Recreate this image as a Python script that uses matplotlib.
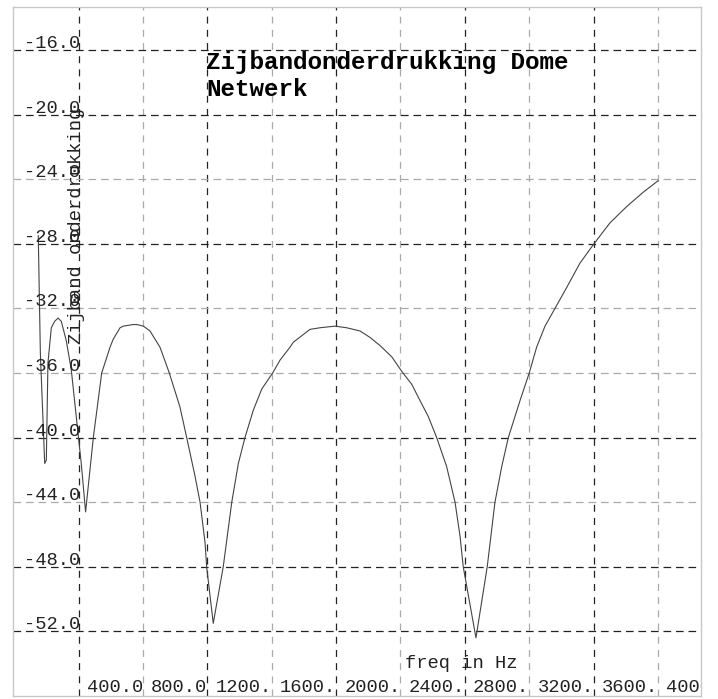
import matplotlib
matplotlib.use("Agg")
import matplotlib.pyplot as plt
import matplotlib.transforms as mtransforms

plt.rcParams["lines.scale_dashes"] = False

# frequency (Hz) and sideband suppression (dB)
freq = [150, 163, 190, 200, 210, 231, 252, 273, 293, 324, 355, 386, 417,
        444, 492, 544, 596, 616, 658, 678, 740, 762, 803, 844, 875, 906,
        964, 1030, 1072, 1124, 1155, 1186, 1196, 1237, 1299, 1352, 1393,
        1434, 1486, 1538, 1606, 1652, 1714, 1734, 1838, 1900, 1993, 2066,
        2149, 2211, 2273, 2346, 2408, 2470, 2521, 2573, 2625, 2687, 2739,
        2770, 2790, 2869, 2939, 2987, 3029, 3070, 3143, 3200, 3246, 3298,
        3360, 3433, 3515, 3602, 3702, 3805, 3909, 4000]
suppr = [-27.5, -34.8, -41.6, -41.4, -35.4, -33.2, -32.8, -32.6, -32.8,
         -34.0, -35.8, -38.7, -41.6, -44.6, -40.0, -36.0, -34.4, -33.9,
         -33.2, -33.1, -33.0, -33.0, -33.1, -33.4, -33.9, -34.4, -36.0,
         -38.1, -40.0, -42.4, -44.0, -46.5, -48.0, -51.5, -48.0, -44.0,
         -41.6, -40.0, -38.3, -37.0, -36.0, -35.2, -34.4, -34.1, -33.3,
         -33.2, -33.1, -33.2, -33.4, -33.8, -34.3, -35.0, -35.9, -36.7,
         -37.7, -38.7, -40.0, -41.8, -44.0, -46.1, -48.0, -52.4, -48.0,
         -44.0, -41.8, -40.0, -37.7, -36.0, -34.4, -33.1, -32.0, -30.7,
         -29.2, -28.0, -26.7, -25.7, -24.8, -24.1]

xticks = [400, 800, 1200, 1600, 2000, 2400, 2800, 3200, 3600, 4000]
xtick_labels = ["400.0", "800.0", "1200.", "1600.", "2000.", "2400.",
                "2800.", "3200.", "3600.", "4000."]
yticks = [-16, -20, -24, -28, -32, -36, -40, -44, -48, -52]

# which grid lines are drawn dark
xdark = [True, False, True, False, True, False, True, False, True, False]
ydark = [True, True, False, True, False, False, True, False, True, True]

mono = "Liberation Mono"
small = 13.5

fig = plt.figure(figsize=(7.18, 6.99), dpi=100)
ax = fig.add_axes([13 / 718, 3 / 699, 688 / 718, 689 / 699])
ax.set_xlim(-7, 4267)
ax.set_ylim(-56.0, -13.34)

for x, dark in zip(xticks, xdark):
    ax.axvline(x, color="#222222" if dark else "#aaaaaa", lw=0.9,
               dashes=(5.0, 4.5), zorder=1)
for y, dark in zip(yticks, ydark):
    ax.axhline(y, color="#222222" if dark else "#aaaaaa", lw=0.9,
               dashes=(5.5, 3.5), zorder=1)

ax.plot(freq, suppr, color="#444444", lw=0.8, zorder=3)

ax.set_xticks([])
ax.set_yticks([])
for s in ax.spines.values():
    s.set_color("#c8c8c8")
    s.set_linewidth(1.0)

# y tick labels sit just above their grid line
ytrans = mtransforms.blended_transform_factory(ax.transAxes, ax.transData)
for y in yticks:
    ax.text(0.016, y + 0.12, f"{y:.1f}", transform=ytrans, fontsize=small,
            family=mono, ha="left", va="baseline", color="#222222", zorder=4)

# x tick labels end at the next grid line
xtrans = mtransforms.blended_transform_factory(ax.transData, ax.transAxes)
for x, lab in zip(xticks, xtick_labels):
    ax.text(x + 400, 0.006, lab, transform=xtrans, fontsize=small,
            family=mono, ha="right", va="baseline", color="#222222",
            clip_on=True)

ax.text(0.570, 0.041, "freq in Hz", transform=ax.transAxes, fontsize=small,
        family=mono, ha="left", va="baseline", color="#222222")
ax.text(0.0916, 0.682, "Zijband onderdrukking", transform=ax.transAxes,
        fontsize=small, family=mono, rotation=90, ha="center", va="center",
        color="#222222", zorder=4)

ax.text(0.2805, 0.9107, "Zijbandonderdrukking Dome", transform=ax.transAxes,
        fontsize=17.5, family=mono, weight="bold", ha="left", va="baseline")
ax.text(0.2805, 0.8711, "Netwerk", transform=ax.transAxes,
        fontsize=17.5, family=mono, weight="bold", ha="left", va="baseline")

fig.savefig("out.png", dpi=100)
